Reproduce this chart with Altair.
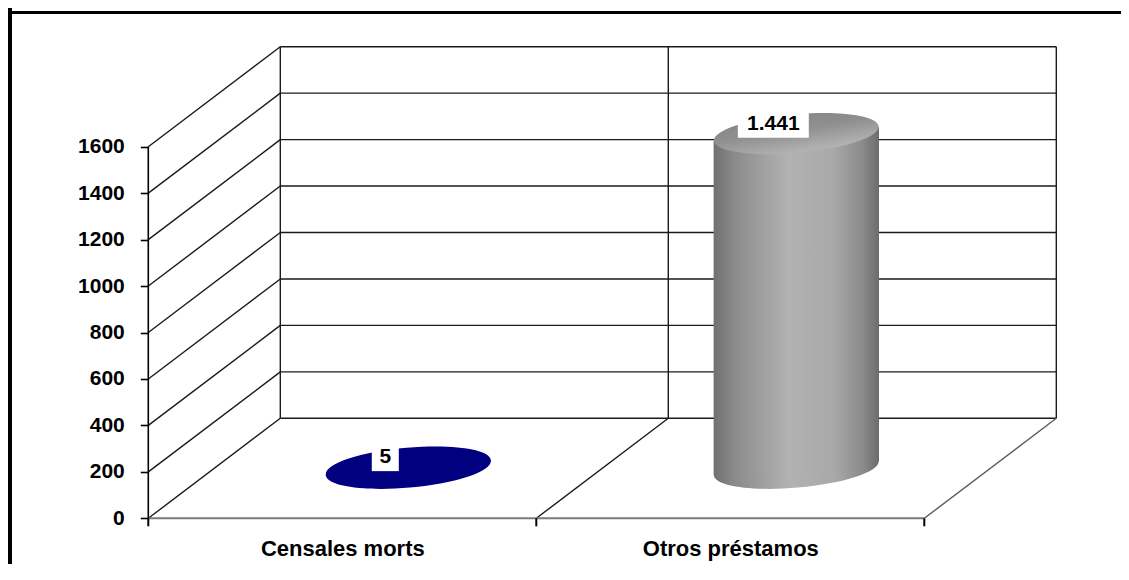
import altair as alt
import pandas as pd

# ---------------- data ----------------
categories = ["Censales morts", "Otros préstamos"]
values = [5, 1441]
value_labels = ["5", "1.441"]
y_ticks = [0, 200, 400, 600, 800, 1000, 1200, 1400, 1600]
bar_colors = ["#000080", None]  # None -> gray shaded cylinder

# ---------------- layout / projection constants ----------------
W, H = 1113, 556
PXX = 388.0              # px per category unit
X0 = 140.3               # px position of the front-left floor corner
PXY = 371.6 / 1600       # px per value unit
Y0 = 510.3               # px position of value 0 (front)
DX = 132 / PXX           # depth offset (x) in category units
DY = 100 / PXY           # depth offset (y) in value units
HW = 82.7                # cylinder half width, px
TILT = 7.0               # px vertical tilt at cylinder edge
ELL_K = 0.234            # ellipse ry/rx
FONT = "Liberation Sans, Arial, sans-serif"
FS = 21
FS_CAT = 22
YMAX = y_ticks[-1]
NCAT = len(categories)

xs = alt.Scale(domain=[-X0 / PXX, (W - X0) / PXX], nice=False, zero=False)
ys = alt.Scale(domain=[-(H - Y0) / PXY, Y0 / PXY], nice=False, zero=False)

cat_expr = " : ".join(
    [f"datum.value < {i + 1} ? '{c}'" for i, c in enumerate(categories[:-1])]
    + [f"'{categories[-1]}'"]
)

XAX = alt.Axis(values=[i + 0.5 for i in range(NCAT)], labelExpr=cat_expr, ticks=False,
               domain=False, grid=False, title=None, offset=-(H - Y0), labelPadding=20,
               labelLimit=0, labelFont=FONT, labelFontSize=FS_CAT, labelFontWeight="bold",
               labelColor="black")
YAX = alt.Axis(values=y_ticks, format="d", domain=False, grid=False, title=None, offset=-X0,
               tickSize=8, tickColor="black", tickWidth=1.6, labelPadding=16, labelLimit=0,
               labelFont=FONT, labelFontSize=FS, labelFontWeight="bold", labelColor="black")


def X(f):
    return alt.X(f, type="quantitative", scale=xs, axis=XAX)


def Y(f):
    return alt.Y(f, type="quantitative", scale=ys, axis=YAX)


LINE = "#1a1a1a"

# grid lines on left and back walls
grid = pd.DataFrame({"v": y_ticks})
grid["vb"] = grid["v"] + DY
grid["x0"] = 0.0
grid["xb"] = DX
grid["xr"] = NCAT + DX

back_h = alt.Chart(grid).mark_rule(color=LINE, strokeWidth=1.4).encode(
    x=X("xb"), x2="xr", y=Y("vb"))
left_d = alt.Chart(grid).mark_rule(color=LINE, strokeWidth=1.4).encode(
    x=X("x0"), x2="xb", y=Y("v"), y2="vb")

edges = pd.DataFrame({"b": list(range(NCAT + 1))})
edges["bx"] = edges["b"] + DX
edges["y0"] = 0.0
edges["yb"] = DY
edges["yt"] = YMAX + DY
back_v = alt.Chart(edges).mark_rule(color=LINE, strokeWidth=1.4).encode(
    x=X("bx"), y=Y("yb"), y2="yt")
floor_mid = alt.Chart(edges).transform_filter("datum.b > 0 && datum.b < %d" % NCAT).mark_rule(
    color=LINE, strokeWidth=1.4).encode(x=X("b"), x2="bx", y=Y("y0"), y2="yb")
floor_right = alt.Chart(edges).transform_filter("datum.b == %d" % NCAT).mark_rule(
    color="#5a5a5a", strokeWidth=1.4).encode(x=X("b"), x2="bx", y=Y("y0"), y2="yb")
cat_ticks = alt.Chart(edges).mark_rule(color="black", strokeWidth=2, y2Offset=8).encode(
    x=X("b"), y=Y("y0"), y2="y0")

front = pd.DataFrame({"x0": [0.0], "x1": [float(NCAT)], "y0": [0.0], "y1": [float(YMAX)]})
front_axis = alt.Chart(front).mark_rule(color="black", strokeWidth=1.6).encode(
    x=X("x0"), y=Y("y0"), y2="y1")
front_floor = alt.Chart(front).mark_rule(color="#7a7a7a", strokeWidth=2).encode(
    x=X("x0"), x2="x1", y=Y("y0"))

# bars
bars = pd.DataFrame({"cat": categories, "value": values, "label": value_labels})
bars["i"] = range(NCAT)
bars["cx"] = bars["i"] + 0.5 + DX / 2
bars["base"] = DY / 2
bars["top"] = bars["value"] + DY / 2

c = 0.5523
k = ELL_K
ELLIPSE = (f"M -1 0 C -1 {-c*k:.4f} {-c:.4f} {-k:.4f} 0 {-k:.4f} "
           f"C {c:.4f} {-k:.4f} 1 {-c*k:.4f} 1 0 "
           f"C 1 {c*k:.4f} {c:.4f} {k:.4f} 0 {k:.4f} "
           f"C {-c:.4f} {k:.4f} -1 {c*k:.4f} -1 0 Z")
ESIZE = (2 * HW) ** 2

body_grad = alt.Gradient(gradient="linear", x1=0, y1=0, x2=1, y2=0, stops=[
    alt.GradientStop(offset=0, color="#707070"),
    alt.GradientStop(offset=0.12, color="#8a8a8a"),
    alt.GradientStop(offset=0.45, color="#b2b2b2"),
    alt.GradientStop(offset=0.72, color="#a9a9a9"),
    alt.GradientStop(offset=0.9, color="#8b8b8b"),
    alt.GradientStop(offset=1, color="#6c6c6c"),
])
top_grad = alt.Gradient(gradient="linear", x1=0, y1=0, x2=0.3, y2=1, stops=[
    alt.GradientStop(offset=0, color="#858585"),
    alt.GradientStop(offset=0.5, color="#8f8f8f"),
    alt.GradientStop(offset=1, color="#b0b0b0"),
])

bar_layers = []
for i, cat in enumerate(categories):
    row = bars[bars["i"] == i].iloc[0]
    solid = bar_colors[i]
    bfill = solid if solid else body_grad
    tfill = solid if solid else top_grad
    sub = bars[bars["i"] == i]
    # body parallelogram (two edge points)
    dT = TILT / PXY
    body = pd.DataFrame({
        "xe": [row["cx"] - HW / PXX, row["cx"] + HW / PXX],
        "yb": [row["base"] - dT, row["base"] + dT],
        "yt": [row["top"] - dT, row["top"] + dT],
    })
    bottom_e = alt.Chart(sub).mark_point(shape=ELLIPSE, size=ESIZE, filled=True, fill=bfill,
                                         opacity=1, strokeWidth=0, angle=355).encode(
        x=X("cx"), y=Y("base"))
    body_a = alt.Chart(body).mark_area(fill=bfill, opacity=1, orient="vertical").encode(
        x=X("xe"), y=Y("yb"), y2="yt")
    top_e = alt.Chart(sub).mark_point(shape=ELLIPSE, size=ESIZE, filled=True, fill=tfill,
                                      opacity=1, strokeWidth=0, angle=355).encode(
        x=X("cx"), y=Y("top"))
    hw = 8 + 5.5 * len(row["label"])
    box = alt.Chart(sub).mark_rect(color="white", xOffset=-23 - hw, x2Offset=-23 + hw,
                                   yOffset=-10 - 14, y2Offset=-10 + 14).encode(
        x=X("cx"), x2="cx", y=Y("top"), y2="top")
    txt = alt.Chart(sub).mark_text(font=FONT, fontSize=FS, fontWeight="bold", color="black",
                                   dx=-23, dy=-10, align="center", baseline="middle").encode(
        x=X("cx"), y=Y("top"), text="label:N")
    bar_layers += [bottom_e, body_a, top_e, box, txt]

# outer frame (left and top edges)
frame_df = pd.DataFrame({"a": [0]})
frame_left = alt.Chart(frame_df).mark_rule(color="black", strokeWidth=5).encode(
    x=alt.value(1.5), y=alt.value(0), y2=alt.value(H))
frame_top = alt.Chart(frame_df).mark_rule(color="black", strokeWidth=3).encode(
    x=alt.value(0), x2=alt.value(W), y=alt.value(4.5))

chart = alt.layer(
    back_h, left_d, back_v, floor_mid, floor_right, front_floor, front_axis, cat_ticks,
    *bar_layers, frame_left, frame_top
).properties(
    width=W, height=H, autosize=alt.AutoSizeParams(type="none"), padding=0,
    background="white"
).configure_view(stroke=None)

chart.save("out.html", embed_options={"renderer": "svg", "actions": False})
